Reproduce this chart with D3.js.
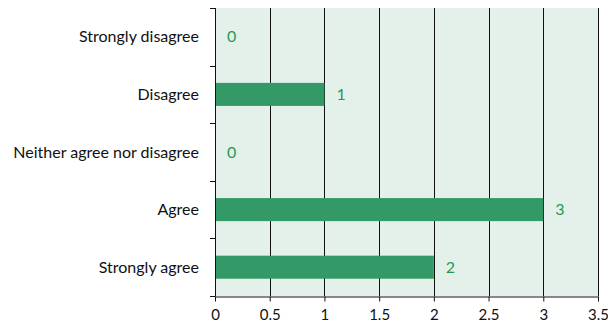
<!DOCTYPE html>
<html>
<head>
<meta charset="utf-8">
<script src="https://cdn.jsdelivr.net/npm/d3@7"></script>
<style>
  html, body { margin: 0; padding: 0; background: #fff; }
  svg { display: block; font-family: Lato, "Open Sans", sans-serif; }
</style>
</head>
<body>
<svg id="chart" width="608" height="327"></svg>
<script>
// Survey responses, top to bottom
const categories = ["Strongly disagree", "Disagree", "Neither agree nor disagree", "Agree", "Strongly agree"];
const counts = [0, 1, 0, 3, 2];
const xTicks = [0, 0.5, 1, 1.5, 2, 2.5, 3, 3.5];

const margin = { top: 8, right: 10, bottom: 30, left: 215 };
const width = 608, height = 327;
const innerH = height - margin.top - margin.bottom - 1;
const fontSize = 16;

const svg = d3.select("#chart");
const g = svg.append("g").attr("transform", `translate(${margin.left},${margin.top})`);

const x = d3.scaleLinear().domain([0, 3.5]).range([0, 383]);
const y = d3.scaleBand().domain(categories).range([0, innerH]).paddingInner(0.6).paddingOuter(0.3);
const yEdges = d3.scaleBand().domain(categories).range([0, innerH]);

// plot background
g.append("rect").attr("x", 0).attr("y", 0).attr("width", x(3.5)).attr("height", innerH)
  .attr("fill", "#e4f1ea");

// vertical gridlines
g.selectAll("line.grid").data(xTicks.slice(1)).join("line")
  .attr("class", "grid")
  .attr("x1", d => Math.round(x(d)) + 0.5).attr("x2", d => Math.round(x(d)) + 0.5)
  .attr("y1", 0).attr("y2", innerH)
  .attr("stroke", "#111").attr("stroke-width", 1);

// bars
g.selectAll("rect.bar").data(counts).join("rect")
  .attr("class", "bar")
  .attr("x", 0)
  .attr("y", (d, i) => y(categories[i]))
  .attr("width", d => x(d))
  .attr("height", y.bandwidth())
  .attr("fill", "#339966");

// value labels
g.selectAll("text.val").data(counts).join("text")
  .attr("class", "val")
  .attr("x", d => x(d) + 12)
  .attr("y", (d, i) => y(categories[i]) + y.bandwidth() / 2)
  .attr("dy", "0.35em")
  .attr("fill", "#1f9a55")
  .attr("font-size", fontSize)
  .text(d => d);

// y axis with category boundary ticks
g.append("line").attr("x1", 0.5).attr("x2", 0.5).attr("y1", 0).attr("y2", innerH)
  .attr("stroke", "#111");
const bounds = categories.map(c => yEdges(c)).concat([innerH]);
g.selectAll("line.ytick").data(bounds).join("line")
  .attr("class", "ytick")
  .attr("x1", -5).attr("x2", 0.5)
  .attr("y1", d => Math.round(d) + 0.5).attr("y2", d => Math.round(d) + 0.5)
  .attr("stroke", "#111");
g.selectAll("text.cat").data(categories).join("text")
  .attr("class", "cat")
  .attr("x", -16)
  .attr("y", c => yEdges(c) + yEdges.bandwidth() / 2)
  .attr("dy", "0.35em")
  .attr("text-anchor", "end")
  .attr("fill", "#111")
  .attr("font-size", fontSize)
  .text(c => c);

// x axis
const xAxis = g.append("g").attr("transform", `translate(0,${Math.round(innerH) + 0.5})`)
  .call(d3.axisBottom(x).tickValues(xTicks).tickSize(5).tickSizeOuter(0).tickPadding(8)
    .tickFormat(d3.format("")));
xAxis.select(".domain").attr("stroke", "#111");
xAxis.selectAll(".tick line").attr("stroke", "#111");
xAxis.selectAll(".tick text").attr("fill", "#111").attr("font-size", 15)
  .attr("font-family", "Lato, 'Open Sans', sans-serif");
</script>
</body>
</html>
